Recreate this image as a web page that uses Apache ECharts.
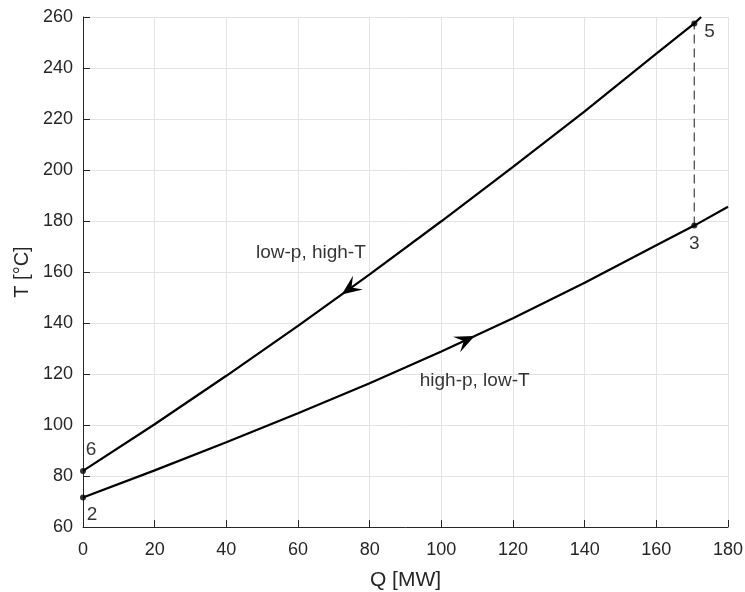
<!DOCTYPE html>
<html>
<head>
<meta charset="utf-8">
<script src="https://cdn.jsdelivr.net/npm/echarts@6/dist/echarts.min.js"></script>
<style>
html,body{margin:0;padding:0;background:#fff;}
#chart{width:745px;height:592px;}
</style>
</head>
<body>
<div id="chart"></div>
<script>
// Hot stream (low-p, high-T)
const hotQ = [0, 20, 40, 60, 80, 100, 120, 140, 160, 170.6, 172.5];
const hotT = [82, 100.3, 119.3, 138.9, 159.1, 179.9, 201.2, 223.0, 245.6, 257.5, 260];
// Cold stream (high-p, low-T)
const coldQ = [0, 20, 40, 60, 80, 100, 120, 140, 160, 170.6, 180];
const coldT = [71.6, 82.2, 93.2, 104.6, 116.4, 128.8, 141.9, 155.8, 170.5, 178.2, 185.6];
// State points
const pointQ = [170.6, 170.6, 0, 0];
const pointT = [257.5, 178.2, 82, 71.6];
const pointNames = ['5', '3', '6', '2'];
// Vertical dashed connector
const dashQ = [170.6, 170.6];
const dashT = [178.2, 257.5];
// Arrow tip positions (Q) and direction (+1 toward higher Q)
const arrowQ = [72.2, 109.3];
const arrowDir = [-1, 1];
const arrowCurve = ['hot', 'cold'];
// Annotations
const noteTexts = ['low-p, high-T', 'high-p, low-T'];
const noteQ = [63.6, 109.3];
const noteT = [167.5, 117.5];
// Axis ticks
const xTicks = [0, 180, 20];
const yTicks = [60, 260, 20];

function interp(qs, ts, q) {
  for (let i = 0; i < qs.length - 1; i++) {
    if (q >= qs[i] && q <= qs[i + 1]) {
      const f = (q - qs[i]) / (qs[i + 1] - qs[i]);
      return ts[i] + f * (ts[i + 1] - ts[i]);
    }
  }
  return ts[ts.length - 1];
}
const curves = { hot: [hotQ, hotT], cold: [coldQ, coldT] };

const FONT = '"Liberation Sans", Arial, sans-serif';
const TXT = '#262626';

const chart = echarts.init(document.getElementById('chart'));
const labelPos = {
  '5': { position: 'right', offset: [2, 8] },
  '3': { position: 'bottom', offset: [0, 1] },
  '6': { position: 'top', offset: [8, -4] },
  '2': { position: 'bottom', offset: [9, 0] }
};

chart.setOption({
  animation: false,
  grid: { left: 83, top: 17, right: 17, bottom: 65, containLabel: false, outerBoundsMode: 'none' },
  xAxis: {
    type: 'value', min: xTicks[0], max: xTicks[1], interval: xTicks[2],
    name: 'Q [MW]', nameLocation: 'middle', nameGap: 43,
    nameTextStyle: { fontFamily: FONT, fontSize: 21, color: TXT },
    axisLine: { lineStyle: { color: TXT, width: 1 } },
    axisTick: { inside: true, length: 7, lineStyle: { color: TXT } },
    axisLabel: { fontFamily: FONT, fontSize: 18, color: TXT, margin: 14 },
    splitLine: { show: true, lineStyle: { color: '#e3e3e3', width: 1 } }
  },
  yAxis: {
    type: 'value', min: yTicks[0], max: yTicks[1], interval: yTicks[2],
    name: 'T [°C]', nameLocation: 'middle', nameGap: 50,
    nameTextStyle: { fontFamily: FONT, fontSize: 20, color: TXT },
    axisLine: { show: true, lineStyle: { color: TXT, width: 1 } },
    axisTick: { show: true, inside: true, length: 7, lineStyle: { color: TXT } },
    axisLabel: { fontFamily: FONT, fontSize: 18, color: TXT, margin: 10 },
    splitLine: { show: true, lineStyle: { color: '#e3e3e3', width: 1 } }
  },
  series: [
    {
      type: 'line', data: dashQ.map((q, i) => [q, dashT[i]]),
      symbol: 'none', lineStyle: { color: '#5a5a5a', width: 1.4, type: [9, 5] },
      silent: true
    },
    {
      type: 'line', data: hotQ.map((q, i) => [q, hotT[i]]),
      symbol: 'none', smooth: false, lineStyle: { color: '#000', width: 2.2 }, clip: true
    },
    {
      type: 'line', data: coldQ.map((q, i) => [q, coldT[i]]),
      symbol: 'none', smooth: false, lineStyle: { color: '#000', width: 2.2 }, clip: true
    },
    {
      type: 'scatter', symbolSize: 6, itemStyle: { color: '#000' },
      data: pointQ.map((q, i) => ({
        value: [q, pointT[i]], name: pointNames[i],
        label: Object.assign({ show: true, formatter: pointNames[i], fontFamily: FONT, fontSize: 19, color: '#000' }, labelPos[pointNames[i]])
      })),
      emphasis: { disabled: true },
      clip: false, z: 5
    },
    {
      type: 'scatter', symbolSize: 0, emphasis: { disabled: true },
      data: noteQ.map((q, i) => ({
        value: [q, noteT[i]],
        label: { show: true, position: 'inside', formatter: noteTexts[i], fontFamily: FONT, fontSize: 19, color: '#000' }
      }))
    },
    {
      type: 'custom', coordinateSystem: 'cartesian2d', z: 6,
      data: arrowQ.map((q, i) => {
        const c = curves[arrowCurve[i]];
        return [q, interp(c[0], c[1], q), arrowDir[i], i];
      }),
      renderItem: function (params, api) {
        const q = api.value(0), t = api.value(1), dir = api.value(2), idx = api.value(3);
        const c = curves[arrowCurve[idx]];
        const qb = q - dir * 4;
        const tip = api.coord([q, t]);
        const back = api.coord([qb, interp(c[0], c[1], qb)]);
        let ux = tip[0] - back[0], uy = tip[1] - back[1];
        const len = Math.sqrt(ux * ux + uy * uy);
        ux /= len; uy /= len;
        const nx = -uy, ny = ux;
        const L = 20, W = 8.5, N = 12;
        const pts = [
          tip,
          [tip[0] - ux * L + nx * W, tip[1] - uy * L + ny * W],
          [tip[0] - ux * N, tip[1] - uy * N],
          [tip[0] - ux * L - nx * W, tip[1] - uy * L - ny * W]
        ];
        return { type: 'polygon', shape: { points: pts }, style: { fill: '#000' } };
      }
    }
  ]
});
</script>
</body>
</html>
